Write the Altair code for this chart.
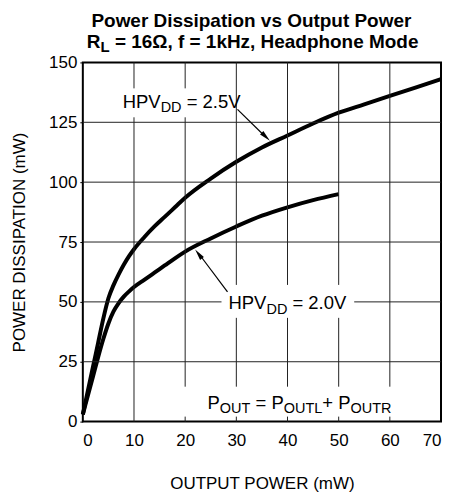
import altair as alt
import pandas as pd

# ---- data ----
x_25 = [0, 1, 2, 3, 4, 5, 6, 7, 8, 9, 10, 12, 14, 16, 18, 20, 25, 30, 35, 40, 45, 50, 55, 60, 65, 70]
y_25 = [3, 13, 23, 33, 43, 51.5, 57, 61.5, 65.5, 69, 72, 77, 81.5, 85.5, 89.5, 93.5, 101.5, 108.5,
        114.5, 119.5, 124.5, 129, 132.5, 136, 139.5, 143]
x_20 = [0, 1, 2, 3, 4, 5, 6, 7, 8, 9, 10, 12, 14, 16, 18, 20, 25, 30, 35, 40, 45, 50]
y_20 = [3, 11, 19, 27, 34.5, 41, 46, 49.5, 52.2, 54.3, 56.2, 59.2, 62.2, 65.2, 68.2, 71, 76.5, 81.5,
        86, 89.5, 92.5, 95]
x_ticks = [0, 10, 20, 30, 40, 50, 60, 70]
y_ticks = [0, 25, 50, 75, 100, 125, 150]

FONT = "Liberation Sans"
W, H = 359, 360
PXX = W / 70.0
PXY = H / 150.0

xs = alt.Scale(domain=[0, 70], nice=False, zero=False)
ys = alt.Scale(domain=[0, 150], nice=False, zero=False)

X_AX = alt.Axis(values=x_ticks, ticks=False, labelPadding=11, title="OUTPUT POWER (mW)",
                titleY=67, titleX=W / 2, titleBaseline="alphabetic", titleAlign="center",
                grid=False, format="d")
Y_AX = alt.Axis(values=y_ticks, ticks=True, tickSize=3, tickColor="black", labelPadding=3,
                title="POWER DISSIPATION (mW)", titleX=-58, titleY=H / 2, titleAngle=270,
                titleBaseline="alphabetic", titleAlign="center", grid=False, format="d")


def X(f):
    return alt.X(f, scale=xs, axis=X_AX)


def Y(f):
    return alt.Y(f, scale=ys, axis=Y_AX)


REG = {' ': .278, '=': .584, '+': .584, '.': .278, ',': .278, 'H': .722, 'P': .667, 'V': .667,
       'D': .722, 'O': .778, 'U': .722, 'T': .611, 'L': .556, 'R': .722}
BLD = {' ': .278, '=': .584, ',': .278, 'R': .722, 'L': .611, 'Ω': .768, 'f': .333, 'k': .556,
       'H': .722, 'z': .5, 'e': .556, 'a': .556, 'd': .611, 'p': .611, 'h': .611, 'o': .611,
       'n': .611, 'M': .833}


def tw(s, size, bold=False):
    t = BLD if bold else REG
    return sum(t.get(c, 0.556) for c in s) * size


def rich(segments, x, y, size, sub, sub_dy, bold=False, pixel=False, center=False):
    total = sum(tw(t, sub if s else size, bold) for t, s in segments)
    layers = []
    off = -total / 2 if center else 0.0
    for text, is_sub in segments:
        fs = sub if is_sub else size
        lead = len(text) - len(text.lstrip(' '))
        core = text.strip(' ')
        start = off + tw(' ' * lead, fs, bold)
        df = pd.DataFrame({"tx": [x], "ty": [y], "t": [core]})
        m = alt.Chart(df).mark_text(
            align="left", baseline="alphabetic", dx=start,
            dy=sub_dy if is_sub else 0, fontSize=fs, font=FONT,
            fontWeight="bold" if bold else "normal", color="black")
        if pixel:
            m = m.encode(x=alt.value(x), y=alt.value(y), text="t:N")
        else:
            m = m.encode(x=X("tx:Q"), y=Y("ty:Q"), text="t:N")
        layers.append(m)
        off += tw(text, fs, bold)
    return layers


def dx_(px):
    return (px - 83) / PXX


def dy_(px):
    return 150 - (px - 62) / PXY


# label boxes (gaps in the grid behind the annotation texts): x0, x1, y0, y1 in data units
label_boxes = [
    (dx_(117), dx_(236), dy_(117), dy_(88)),
    (dx_(222), dx_(355), dy_(318), dy_(285)),
    (dx_(182), dx_(404), dy_(417), dy_(387)),
]


def cut(lo, hi, gaps):
    segs = [(lo, hi)]
    for g0, g1 in sorted(gaps):
        new = []
        for a, b in segs:
            if g1 <= a or g0 >= b:
                new.append((a, b))
            else:
                if g0 > a:
                    new.append((a, g0))
                if g1 < b:
                    new.append((g1, b))
        segs = new
    return segs


rows = []
for v in x_ticks[1:-1]:
    gaps = [(b[2], b[3]) for b in label_boxes if b[0] <= v <= b[1]]
    for a, b in cut(0, 150, gaps):
        rows.append({"gx": v, "gx2": v, "gy": a, "gy2": b})
for v in y_ticks[1:-1]:
    gaps = [(b[0], b[1]) for b in label_boxes if b[2] <= v <= b[3]]
    for a, b in cut(0, 70, gaps):
        rows.append({"gx": a, "gx2": b, "gy": v, "gy2": v})
grid_df = pd.DataFrame(rows)

grid_layer = alt.Chart(grid_df).mark_rule(color="#222222", strokeWidth=1).encode(
    x=X("gx:Q"), x2="gx2:Q", y=Y("gy:Q"), y2="gy2:Q")

curves = pd.DataFrame({
    "cx": x_25 + x_20,
    "cy": y_25 + y_20,
    "s": ["2.5V"] * len(x_25) + ["2.0V"] * len(x_20),
})

line_layer = alt.Chart(curves).mark_line(strokeWidth=4, color="black", interpolate="monotone").encode(
    x=X("cx:Q"), y=Y("cy:Q"), detail="s:N")

# arrows
arrows = pd.DataFrame({
    "ax": [dx_(238), dx_(228)],
    "ay": [dy_(109), dy_(292)],
    "ax2": [dx_(266), dx_(199.5)],
    "ay2": [dy_(136.5), dy_(254)],
})
arrow_lines = alt.Chart(arrows).mark_rule(color="black", strokeWidth=1.2).encode(
    x=X("ax:Q"), x2="ax2:Q", y=Y("ay:Q"), y2="ay2:Q")

HEAD = "M0,-1L0.42,1L-0.42,1Z"
head1 = alt.Chart(pd.DataFrame({"hx": [dx_(266.4)], "hy": [dy_(136.5)]})).mark_point(
    shape=HEAD, filled=True, size=130, angle=134, color="black", opacity=1).encode(
    x=X("hx:Q"), y=Y("hy:Q"))
head2 = alt.Chart(pd.DataFrame({"hx": [dx_(199)], "hy": [dy_(254)]})).mark_point(
    shape=HEAD, filled=True, size=130, angle=323, color="black", opacity=1).encode(
    x=X("hx:Q"), y=Y("hy:Q"))

texts = []
texts += rich([("Power Dissipation vs Output Power", False)], 175.5, -36, 19, 15, 4,
              bold=True, pixel=True, center=True)
texts += rich([("R", False), ("L", True), (" = 16Ω, f = 1kHz, Headphone Mode", False)],
              170, -14.2, 19, 15, 4, bold=True, pixel=True, center=True)
texts += rich([("HPV", False), ("DD", True), (" = 2.5V", False)], dx_(123), dy_(107.3), 18.5, 14.5, 4.5)
texts += rich([("HPV", False), ("DD", True), (" = 2.0V", False)], dx_(229), dy_(309.3), 18.5, 14.5, 4.5)
texts += rich([("P", False), ("OUT", True), (" = P", False), ("OUTL", True), ("+ P", False),
               ("OUTR", True)], dx_(208), dy_(409.3), 18.5, 14.5, 4)

chart = alt.layer(line_layer, grid_layer, arrow_lines, head1, head2, *texts).properties(
    width=W, height=H,
    autosize=alt.AutoSizeParams(type="none"),
    padding={"left": 75, "top": 54, "right": 4, "bottom": 70},
    background="white",
).configure_view(
    stroke="black", strokeWidth=2
).configure_axis(
    domain=False,
    labelFont=FONT, labelFontSize=17, labelColor="black",
    titleFont=FONT, titleFontSize=17, titleFontWeight="normal", titleColor="black",
)

chart.save("out.html", embed_options={"renderer": "svg", "actions": False})
